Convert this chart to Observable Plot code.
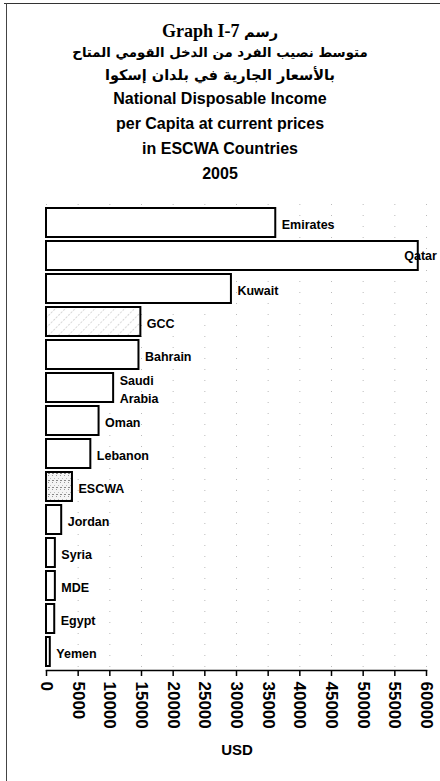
<!DOCTYPE html>
<html>
<head>
<meta charset="utf-8">
<script src="https://cdn.jsdelivr.net/npm/d3@7"></script>
<script src="https://cdn.jsdelivr.net/npm/@observablehq/plot@0.6"></script>
<style>
  html, body { margin: 0; padding: 0; background: #fff; }
  #page { position: relative; width: 440px; height: 781px; overflow: hidden; background: #fff; font-family: "Liberation Sans", Arial, sans-serif; }
  #topline { position: absolute; left: 4px; top: 3px; width: 436px; height: 0; border-top: 1.5px solid #333; }
  #leftline { position: absolute; left: 6px; top: 3px; width: 0; height: 778px; border-left: 1.5px solid #444; }
  #title { position: absolute; left: 0; top: 20px; width: 440px; text-align: center; color: #000; }
  .l { white-space: nowrap; }
  .t1 { font-family: "Liberation Serif", "Times New Roman", serif; font-weight: bold; font-size: 18px; height: 22px; line-height: 22px; }
  .t1 .ar { font-family: "DejaVu Sans", sans-serif; font-size: 14.5px; }
  .ar2 { font-family: "DejaVu Sans", sans-serif; font-weight: bold; font-size: 14.5px; height: 22px; line-height: 22px; }
  .ar2.a1 { font-size: 13.3px; }
  .en { font-family: "Liberation Sans", Arial, sans-serif; font-weight: bold; font-size: 16px; height: 25px; line-height: 25px; }
  #chart { position: absolute; left: 0; top: 195px; }
  #usd { position: absolute; left: 0; top: 741px; width: 474px; text-align: center; font-weight: bold; font-size: 15px; font-family: "Liberation Sans", Arial, sans-serif; }
  #chart g[aria-label="x-axis tick label"] text { font-weight: bold; }
</style>
</head>
<body>
<div id="page">
  <div id="topline"></div>
  <div id="leftline"></div>
  <div id="title">
    <div class="l t1">Graph I-7 <span class="ar">رسم</span></div>
    <div class="l ar2 a1" dir="rtl">متوسط نصيب الفرد من الدخل القومي المتاح</div>
    <div class="l ar2" dir="rtl">بالأسعار الجارية في بلدان إسكوا</div>
    <div class="l en">National Disposable Income</div>
    <div class="l en">per Capita at current prices</div>
    <div class="l en">in ESCWA Countries</div>
    <div class="l en">2005</div>
  </div>
  <div id="chart"></div>
  <div id="usd">USD</div>
</div>
<script>
// Data
const countries = ["Emirates", "Qatar", "Kuwait", "GCC", "Bahrain", "Saudi Arabia", "Oman", "Lebanon", "ESCWA", "Jordan", "Syria", "MDE", "Egypt", "Yemen"];
const labels = ["Emirates", "Qatar", "Kuwait", "GCC", "Bahrain", "Saudi\nArabia", "Oman", "Lebanon", "ESCWA", "Jordan", "Syria", "MDE", "Egypt", "Yemen"];
const values = [36200, 58700, 29200, 14900, 14600, 10600, 8300, 7000, 4100, 2400, 1400, 1400, 1300, 600];
const tickValues = [0, 5000, 10000, 15000, 20000, 25000, 30000, 35000, 40000, 45000, 50000, 55000, 60000];

const data = countries.map((c, i) => ({country: c, label: labels[i], value: values[i]}));
const fillOf = d => d.country === "GCC" ? "url(#hatch)" : d.country === "ESCWA" ? "url(#dots)" : "white";

const chart = Plot.plot({
  width: 440,
  height: 550,
  marginLeft: 46,
  marginRight: 14,
  marginTop: 9,
  marginBottom: 75,
  style: {fontFamily: "'Liberation Sans', Arial, sans-serif", color: "black", background: "transparent"},
  x: {domain: [0, 60000]},
  y: {domain: countries, padding: 0.12, axis: null},
  color: {type: "identity"},
  marks: [
    Plot.gridX(tickValues, {stroke: "#777", strokeOpacity: 0.5, strokeDasharray: "1,10"}),
    Plot.barX(data, {x: "value", y: "country", fill: fillOf, stroke: "black", strokeWidth: 2}),
    Plot.text(data.filter(d => d.country !== "Qatar"), {x: "value", y: "country", text: "label", dx: 6, textAnchor: "start", fontWeight: "bold", fontSize: 12.5, lineHeight: 1.45, fill: "black"}),
    Plot.text(data.filter(d => d.country === "Qatar"), {x: "value", y: "country", text: "label", dx: -14, textAnchor: "start", fontWeight: "bold", fontSize: 12.5, fill: "black"}),
    Plot.frame({anchor: "bottom", stroke: "black", strokeWidth: 1.5}),
    Plot.axisX({ticks: tickValues, tickFormat: d3.format("d"), tickRotate: 90, tickSize: 6, tickPadding: 5, fontSize: 17, label: null, stroke: "black", strokeWidth: 1.5})
  ]
});

// Fill patterns used by the GCC and ESCWA bars
const ns = "http://www.w3.org/2000/svg";
const defs = document.createElementNS(ns, "defs");
defs.innerHTML = `
  <pattern id="hatch" patternUnits="userSpaceOnUse" width="7" height="7" patternTransform="rotate(45)">
    <rect width="7" height="7" fill="white"/>
    <line x1="0" y1="0" x2="0" y2="7" stroke="#aaa" stroke-width="1" stroke-dasharray="2,1.5"/>
  </pattern>
  <pattern id="dots" patternUnits="userSpaceOnUse" width="4" height="7">
    <rect width="4" height="7" fill="#f4f4f4"/>
    <rect x="0" y="0" width="1" height="1" fill="#999"/>
    <rect x="2" y="3" width="1" height="1" fill="#bbb"/>
    <rect x="0" y="5" width="2" height="1" fill="#888"/>
  </pattern>`;
chart.insertBefore(defs, chart.firstChild);
document.getElementById("chart").appendChild(chart);
</script>
</body>
</html>
